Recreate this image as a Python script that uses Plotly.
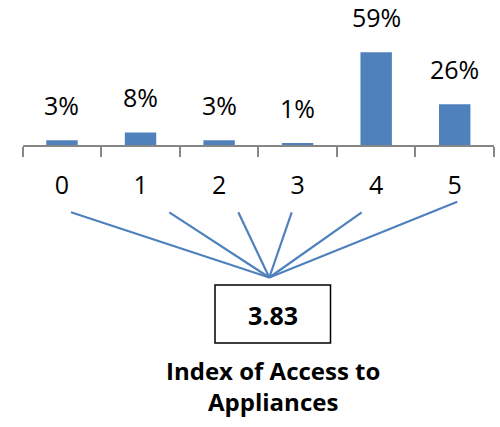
import plotly.graph_objects as go

categories = ["0", "1", "2", "3", "4", "5"]
shares = [3, 8, 3, 1, 59, 26]
index_value = 3.83
index_title = "Index of Access to<br>Appliances"

W, H = 500, 427
BLUE = "#4F81BD"
FONT = "Open Sans"

def px(x):
    return x / W

def py(y):
    return 1 - y / H

fig = go.Figure()
fig.add_trace(go.Bar(x=categories, y=shares, marker=dict(color=BLUE, line=dict(width=0)),
                     width=0.4, hoverinfo="skip"))

for c, v in zip(categories, shares):
    fig.add_annotation(x=c, y=v, xref="x", yref="y", text=f"{v}%", showarrow=False,
                       yanchor="bottom", yshift=16, font=dict(family=FONT, size=25, color="#000"))

# fan connector lines
hub = (269.3, 277.5)
ends = [(71, 212.3), (169.3, 212.3), (238.3, 212.3), (291.7, 212.3), (361.7, 212.3), (457.3, 201.7)]
shapes = []
for ex, ey in ends:
    shapes.append(dict(type="line", xref="paper", yref="paper",
                       x0=px(ex), y0=py(ey), x1=px(hub[0]), y1=py(hub[1]),
                       line=dict(color=BLUE, width=2.2)))
shapes.append(dict(type="rect", xref="paper", yref="paper",
                   x0=px(215), y0=py(285), x1=px(330.5), y1=py(343),
                   line=dict(color="#000", width=1.5), fillcolor="rgba(0,0,0,0)"))

fig.add_annotation(x=px(272.5), y=py(315), xref="paper", yref="paper", text=f"<b>{index_value:.2f}</b>",
                   xanchor="center", yanchor="middle",
                   showarrow=False, font=dict(family=FONT, size=25, color="#000"))
fig.add_annotation(x=px(273), y=py(386), xref="paper", yref="paper", text=f"<b>{index_title}</b>",
                   xanchor="center", yanchor="middle",
                   showarrow=False, font=dict(family=FONT, size=24, color="#000"))

fig.update_layout(
    width=W, height=H, margin=dict(l=0, r=0, t=0, b=0),
    paper_bgcolor="white", plot_bgcolor="white", showlegend=False,
    shapes=shapes,
    xaxis=dict(type="category", domain=[22.7 / W, 494 / W], range=[-0.5, 5.5],
               showline=True, linecolor="#868686", linewidth=2,
               ticks="outside", tickson="boundaries", ticklen=10, tickcolor="#868686", tickwidth=2,
               tickfont=dict(family=FONT, size=25, color="#000"), ticklabelstandoff=17,
               showgrid=False, zeroline=False),
    yaxis=dict(domain=[py(145), 1], range=[0, 92.3], visible=False, showgrid=False, zeroline=False),
)

fig.write_html("out.html")
